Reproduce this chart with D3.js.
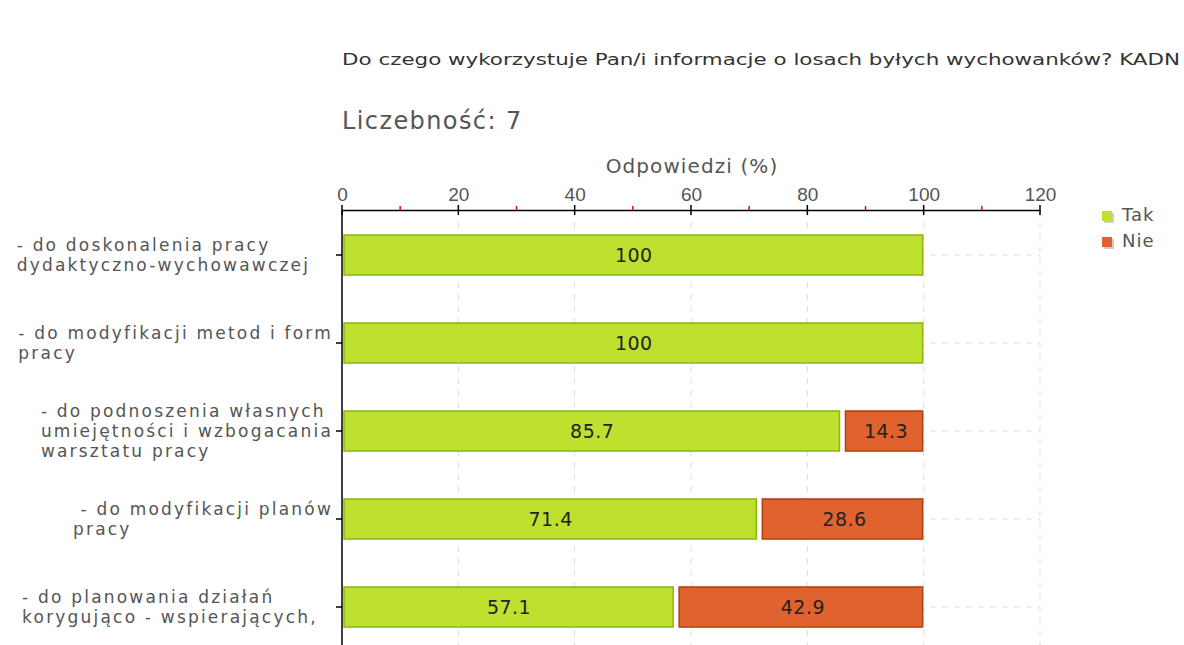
<!DOCTYPE html>
<html lang="pl">
<head>
<meta charset="utf-8">
<title>Do czego wykorzystuje Pan/i informacje o losach byłych wychowanków?</title>
<script src="https://cdn.jsdelivr.net/npm/d3@7"></script>
<style>
    body { margin: 0; background: #fff; }
    svg { display: block; font-family: 'DejaVu Sans', Verdana, sans-serif; }
</style>
</head>
<body>
<svg></svg>
<script>

    // data
    const categories = [
        ['- do doskonalenia pracy', 'dydaktyczno-wychowawczej   '],
        ['- do modyfikacji metod i form', 'pracy'],
        ['- do podnoszenia własnych', 'umiejętności i wzbogacania', 'warsztatu pracy'],
        [' - do modyfikacji planów', 'pracy'],
        ['- do planowania działań', 'korygująco - wspierających,  ']
    ];
    const tak = [100, 100, 85.7, 71.4, 57.1];
    const nie = [0, 0, 14.3, 28.6, 42.9];
    const series = ['Tak', 'Nie'];
    const xTicks = [0, 20, 40, 60, 80, 100, 120];
    const minorTicks = [10, 30, 50, 70, 90, 110];

    const title = 'Do czego wykorzystuje Pan/i informacje o losach byłych wychowanków? KADN';
    const subtitle = 'Liczebność: 7';
    const xTitle = 'Odpowiedzi (%)';

    const opt = {
        width: 1184,
        height: 645,
        colors: { Tak: { fill: '#bee02f', stroke: '#8fb40e' }, Nie: { fill: '#e0622e', stroke: '#b0400f' } },
        plot: { left: 342, right: 1040, top: 210, bottom: 651 },
        text: '#555'
    };

    const svg = d3.select('svg')
        .attr('width', opt.width)
        .attr('height', opt.height);

    const x = d3.scaleLinear().domain([0, 120]).range([opt.plot.left, opt.plot.right]);
    const y = d3.scaleBand()
        .domain(d3.range(categories.length))
        .range([opt.plot.top + 1, opt.plot.bottom])
        .paddingInner(0.545)
        .paddingOuter(0.2725);

    // titles
    svg.append('text')
        .attr('x', 342).attr('y', 65)
        .style('font-size', '16px').attr('fill', '#333')
        .attr('textLength', 838).attr('lengthAdjust', 'spacingAndGlyphs')
        .text(title);

    svg.append('text')
        .attr('x', 342).attr('y', 129)
        .style('font-size', '24px').style('letter-spacing', '1.4px').attr('fill', opt.text)
        .text(subtitle);

    svg.append('text')
        .attr('x', x(60) + 1).attr('y', 173)
        .attr('text-anchor', 'middle')
        .style('font-size', '20px').style('letter-spacing', '1.1px').attr('fill', opt.text)
        .text(xTitle);

    // grid
    const grid = svg.append('g').attr('stroke', '#ddd').attr('stroke-dasharray', '6,6');
    grid.selectAll('line.v')
        .data(xTicks.slice(1))
        .join('line')
        .attr('x1', d => x(d)).attr('x2', d => x(d))
        .attr('y1', opt.plot.top).attr('y2', opt.height);
    grid.selectAll('line.h')
        .data(d3.range(categories.length))
        .join('line')
        .attr('x1', opt.plot.left).attr('x2', opt.plot.right)
        .attr('y1', d => y(d) + y.bandwidth() / 2).attr('y2', d => y(d) + y.bandwidth() / 2);

    // bars
    const rows = svg.append('g').selectAll('g')
        .data(d3.range(categories.length))
        .join('g');

    rows.append('rect')
        .attr('x', x(0) + 2)
        .attr('y', i => y(i))
        .attr('width', i => x(tak[i]) - x(0) - 3)
        .attr('height', y.bandwidth())
        .attr('fill', opt.colors.Tak.fill)
        .attr('stroke', opt.colors.Tak.stroke)
        .attr('stroke-width', 1.5);

    rows.filter(i => nie[i] > 0).append('rect')
        .attr('x', i => x(tak[i]) + 5)
        .attr('y', i => y(i))
        .attr('width', i => x(tak[i] + nie[i]) - x(tak[i]) - 6)
        .attr('height', y.bandwidth())
        .attr('fill', opt.colors.Nie.fill)
        .attr('stroke', opt.colors.Nie.stroke)
        .attr('stroke-width', 1.5);

    rows.append('text')
        .attr('x', i => (x(0) + x(tak[i])) / 2 + 1)
        .attr('y', i => y(i) + y.bandwidth() / 2 + 7)
        .attr('text-anchor', 'middle')
        .style('font-size', '19px').style('letter-spacing', '0.5px').attr('fill', '#222')
        .text(i => tak[i]);

    rows.filter(i => nie[i] > 0).append('text')
        .attr('x', i => (x(tak[i]) + x(tak[i] + nie[i])) / 2 + 4)
        .attr('y', i => y(i) + y.bandwidth() / 2 + 7)
        .attr('text-anchor', 'middle')
        .style('font-size', '19px').style('letter-spacing', '0.5px').attr('fill', '#222')
        .text(i => nie[i]);

    // x axis
    const xAxis = svg.append('g')
        .attr('transform', `translate(0,${opt.plot.top})`)
        .call(d3.axisTop(x).tickValues(xTicks).tickSize(0).tickPadding(9));
    xAxis.select('.domain').attr('stroke', '#000').attr('stroke-width', 1.5);
    xAxis.selectAll('text')
        .style('font-size', '19px')
        .attr('fill', opt.text).style('font-family', 'inherit');

    svg.append('g').selectAll('line')
        .data(xTicks)
        .join('line')
        .attr('x1', d => x(d)).attr('x2', d => x(d))
        .attr('y1', opt.plot.top - 5).attr('y2', opt.plot.top + 5)
        .attr('stroke', '#000').attr('stroke-width', 1.5);

    svg.append('g').selectAll('line')
        .data(minorTicks)
        .join('line')
        .attr('x1', d => x(d)).attr('x2', d => x(d))
        .attr('y1', opt.plot.top - 4).attr('y2', opt.plot.top)
        .attr('stroke', '#f00').attr('stroke-width', 1.5);

    // y axis
    svg.append('line')
        .attr('x1', x(0)).attr('x2', x(0))
        .attr('y1', opt.plot.top).attr('y2', opt.height)
        .attr('stroke', '#000').attr('stroke-width', 1.5);

    svg.append('g').selectAll('line')
        .data(d3.range(categories.length))
        .join('line')
        .attr('x1', x(0) - 6).attr('x2', x(0))
        .attr('y1', i => y(i) + y.bandwidth() / 2).attr('y2', i => y(i) + y.bandwidth() / 2)
        .attr('stroke', '#000').attr('stroke-width', 1.5);

    // category labels: each block left aligned, block pushed against the axis
    const lineH = 20;
    categories.forEach((lines, i) => {
        const cy = y(i) + y.bandwidth() / 2;
        const t = svg.append('text')
            .attr('xml:space', 'preserve')
            .style('font-size', '17px').style('letter-spacing', '2.2px')
            .attr('fill', opt.text);
        lines.forEach((l, k) => {
            t.append('tspan')
                .attr('x', 0)
                .attr('y', cy + (k - (lines.length - 1) / 2) * lineH + 6)
                .text(l);
        });
        const w = t.node().getBBox().width;
        t.attr('transform', `translate(${333 - w},0)`);
    });

    // legend
    const legend = svg.append('g').attr('transform', 'translate(1102,211)');
    series.forEach((s, k) => {
        const g = legend.append('g').attr('transform', `translate(0,${k * 26})`);
        g.append('rect').attr('x', 2).attr('y', 2).attr('width', 10).attr('height', 10).attr('fill', '#ccc');
        g.append('rect').attr('width', 10).attr('height', 10).attr('fill', opt.colors[s].fill);
        g.append('text').attr('x', 20).attr('y', 10)
            .style('font-size', '18px').style('letter-spacing', '1px').attr('fill', opt.text)
            .text(s);
    });

</script>
</body>
</html>
